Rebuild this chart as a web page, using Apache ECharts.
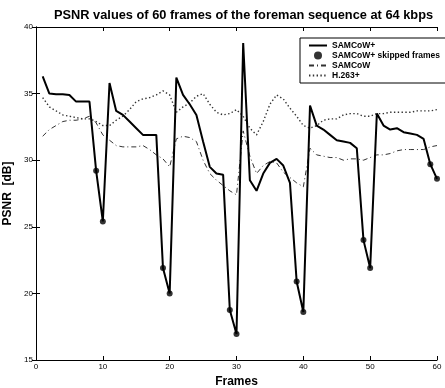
<!DOCTYPE html>
<html><head><meta charset="utf-8">
<script src="https://cdn.jsdelivr.net/npm/echarts@6/dist/echarts.min.js"></script>
<style>html,body{margin:0;padding:0;background:#fff}#c{width:445px;height:388px}</style>
</head><body><div id="c"></div>
<script>
const frames = [1,2,3,4,5,6,7,8,9,10,11,12,13,14,15,16,17,18,19,20,21,22,23,24,25,26,27,28,29,30,31,32,33,34,35,36,37,38,39,40,41,42,43,44,45,46,47,48,49,50,51,52,53,54,55,56,57,58,59,60];
const samcowPlus = [36.3,35.0,34.95,34.95,34.9,34.4,34.4,34.4,29.2,25.4,35.8,33.7,33.4,32.9,32.4,31.9,31.9,31.9,21.9,20.0,36.2,34.9,34.2,33.4,31.4,29.5,29.0,28.9,18.75,16.95,38.8,28.5,27.7,29.0,29.8,30.1,29.6,28.3,20.9,18.6,34.1,32.6,32.3,31.9,31.5,31.4,31.3,30.9,24.0,21.9,33.5,32.6,32.3,32.4,32.1,32.0,31.9,31.6,29.7,28.6];
const skippedFrames = [9,10,19,20,29,30,39,40,49,50,59,60];
const samcow = [31.8,32.3,32.6,32.9,33.0,33.0,33.1,33.3,32.8,31.9,31.5,31.1,31.0,31.0,31.0,31.1,30.8,30.4,30.1,29.5,31.6,31.8,31.7,31.4,30.0,29.0,28.5,28.1,27.7,27.4,32.2,30.3,29.0,29.6,29.9,29.8,29.1,28.7,28.3,28.0,30.9,30.4,30.3,30.2,30.2,30.0,30.1,30.1,30.0,30.2,30.4,30.4,30.5,30.7,30.8,30.8,30.8,30.8,31.0,31.1];
const h263 = [34.7,34.0,33.7,33.4,33.3,33.2,33.1,33.1,32.9,32.6,32.6,33.0,33.3,33.8,34.4,34.6,34.7,34.9,35.2,34.9,33.6,34.0,34.3,34.8,35.0,34.2,33.6,33.4,33.5,33.8,33.3,32.4,31.9,32.9,34.2,34.9,34.6,33.9,33.3,32.6,32.4,32.6,33.0,33.1,33.1,33.4,33.5,33.5,33.3,33.3,33.5,33.5,33.6,33.6,33.6,33.6,33.7,33.7,33.7,33.8];
const xTicks = [0,10,20,30,40,50,60];
const yTicks = [15,20,25,30,35,40];

const pair = (vals) => frames.map((f, i) => [f, vals[i]]);
const skipped = skippedFrames.map(f => [f, samcowPlus[frames.indexOf(f)]]);

const chart = echarts.init(document.getElementById('c'), null, {renderer: 'canvas'});
const axisCommon = {
  type: 'value',
  axisLine: {show: true, lineStyle: {color: '#000', width: 1}},
  axisTick: {show: true, inside: true, length: 4, lineStyle: {color: '#000'}},
  splitLine: {show: false},
};
chart.setOption({
  backgroundColor: '#fff',
  animation: false,
  title: {
    text: 'PSNR values of 60 frames of the foreman sequence at 64 kbps',
    left: 49, top: 4,
    textStyle: {fontFamily: 'Liberation Sans', fontWeight: 'bold', fontSize: 12.8, color: '#000'}
  },
  grid: {left: 36, right: 8, top: 27, bottom: 28, outerBoundsMode: 'none', containLabel: false},
  legend: {
    orient: 'vertical', left: 300, top: 38,
    backgroundColor: '#fff', borderColor: '#000', borderWidth: 1,
    padding: [3, 20, 3, 8], itemGap: 1, itemWidth: 18, itemHeight: 8,
    textStyle: {fontFamily: 'Liberation Sans', fontSize: 8.5, fontWeight: 'bold', color: '#000'},
    data: [
      {name: 'SAMCoW+', itemStyle: {opacity: 0}},
      {name: 'SAMCoW+ skipped frames', icon: 'circle', itemStyle: {color: '#000'}},
      {name: 'SAMCoW', itemStyle: {opacity: 0}},
      {name: 'H.263+', itemStyle: {opacity: 0}}
    ]
  },
  xAxis: [
    Object.assign({}, axisCommon, {
      min: 0, max: 60, interval: 10, position: 'bottom',
      name: 'Frames', nameLocation: 'middle', nameGap: 16,
      nameTextStyle: {fontFamily: 'Liberation Sans', fontWeight: 'bold', fontSize: 12, color: '#000'},
      axisLabel: {color: '#000', fontSize: 8, fontFamily: 'Liberation Sans', margin: 3,
        formatter: v => xTicks.includes(v) ? String(v) : ''}
    }),
    Object.assign({}, axisCommon, {min: 0, max: 60, interval: 10, position: 'top', axisLabel: {show: false}})
  ],
  yAxis: [
    Object.assign({}, axisCommon, {
      min: 15, max: 40, interval: 5, position: 'left',
      name: 'PSNR  [dB]', nameLocation: 'middle', nameGap: 20,
      nameTextStyle: {fontFamily: 'Liberation Sans', fontWeight: 'bold', fontSize: 12, color: '#000'},
      axisLabel: {color: '#000', fontSize: 8, fontFamily: 'Liberation Sans', margin: 3,
        formatter: v => yTicks.includes(v) ? String(v) : ''}
    }),
    Object.assign({}, axisCommon, {min: 15, max: 40, interval: 5, position: 'right', axisLabel: {show: false}})
  ],
  series: [
    {name: 'SAMCoW+', type: 'line', data: pair(samcowPlus), symbol: 'none',
      lineStyle: {color: '#000', width: 2}, itemStyle: {color: '#000'}, z: 5},
    {name: 'SAMCoW+ skipped frames', type: 'scatter', data: skipped, symbol: 'circle', symbolSize: 6,
      itemStyle: {color: '#000'}, z: 6},
    {name: 'SAMCoW', type: 'line', data: pair(samcow), symbol: 'none',
      lineStyle: {color: '#333', width: 1, type: [5, 3, 1, 3]}, itemStyle: {color: '#333'}, z: 3},
    {name: 'H.263+', type: 'line', data: pair(h263), symbol: 'none',
      lineStyle: {color: '#333', width: 1.4, type: [1.4, 2.4]}, itemStyle: {color: '#333'}, z: 3}
  ]
});
</script></body></html>
